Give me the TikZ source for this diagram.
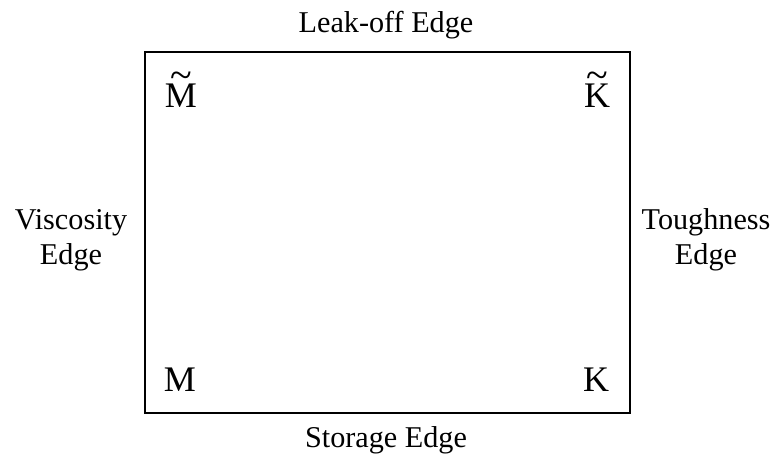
\documentclass[tikz,border=0pt]{standalone}
\usepackage{fontspec}
\setmainfont{Liberation Serif}
\newcommand\tildeover[1]{\ooalign{#1\cr\hidewidth\raisebox{19pt}{\fontsize{40}{40}\selectfont\char"7E}\hidewidth\cr}}
\begin{document}
\begin{tikzpicture}[x=1pt,y=-1pt,
  edgelabel/.style={inner sep=0pt,align=center,font=\fontsize{30.2}{35}\selectfont},
  cornerlabel/.style={inner sep=0pt,anchor=base,font=\fontsize{36}{40}\selectfont},
  frame/.style={draw=black,line width=2pt}]
\useasboundingbox (0,0) rectangle (773,456);
\node[frame,minimum width=485pt,minimum height=361pt,inner sep=0pt,anchor=north west] (box) at (144,50.5) {};
\node[edgelabel,anchor=base] (top) at (386,32) {Leak-off Edge};
\node[edgelabel,anchor=base] (bottom) at (386,447) {Storage Edge};
\node[edgelabel] (left) at (71,240) {Viscosity\\Edge};
\node[edgelabel] (right) at (706,240) {Toughness\\Edge};
\node[cornerlabel] (mt) at (181,107) {\tildeover{M}};
\node[cornerlabel] (kt) at (597,107) {\tildeover{K}};
\node[cornerlabel] (m) at (180,391) {M};
\node[cornerlabel] (k) at (596,391) {K};
\end{tikzpicture}
\end{document}
